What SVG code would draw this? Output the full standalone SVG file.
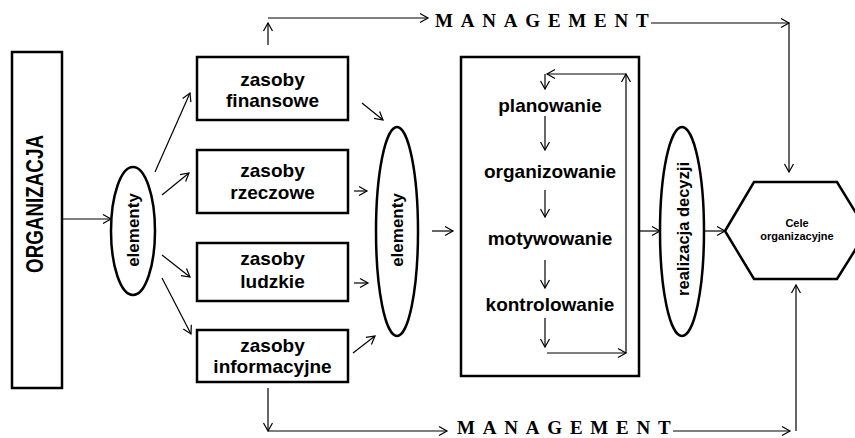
<svg xmlns="http://www.w3.org/2000/svg" width="855" height="438" viewBox="0 0 855 438">
<defs>
<marker id="ah" markerUnits="userSpaceOnUse" markerWidth="12" markerHeight="12" refX="8" refY="4.5" orient="auto" overflow="visible">
<path d="M0,0 L8,4.5 L0,9" fill="none" stroke="#000" stroke-width="1.2"/>
</marker>
</defs>
<style>
.shape{fill:#fff;stroke:#000;stroke-width:2.5}
.c{fill:none;stroke:#000;stroke-width:1.2;marker-end:url(#ah)}
.t{font-family:"Liberation Sans",Arial,sans-serif;font-weight:bold;fill:#000;text-anchor:middle}
.box{font-size:19px}
.proc{font-size:19px}
.mg{font-family:"Liberation Serif","Times New Roman",serif;font-weight:bold;font-size:19px;letter-spacing:7.8px;fill:#000}
</style>
<rect width="855" height="438" fill="#fff"/>

<g id="organizacja">
<rect class="shape" x="12" y="52" width="50" height="336"/>
<text class="t" font-size="23" transform="translate(43,204) rotate(-90)" x="0" y="0" textLength="138" lengthAdjust="spacingAndGlyphs">ORGANIZACJA</text>
</g>

<g id="elementy1">
<ellipse class="shape" cx="133" cy="231" rx="22" ry="64"/>
<text class="t" font-size="17" transform="translate(139,230) rotate(-90)">elementy</text>
</g>

<g id="zasoby-finansowe">
<rect class="shape" x="197" y="57" width="151" height="63"/>
<text class="t box" x="272.5" y="86">zasoby</text>
<text class="t box" x="272.5" y="107">finansowe</text>
</g>
<g id="zasoby-rzeczowe">
<rect class="shape" x="197" y="150" width="151" height="63"/>
<text class="t box" x="272.5" y="177">zasoby</text>
<text class="t box" x="272.5" y="199">rzeczowe</text>
</g>
<g id="zasoby-ludzkie">
<rect class="shape" x="197" y="243" width="151" height="58"/>
<text class="t box" x="272.5" y="265">zasoby</text>
<text class="t box" x="272.5" y="288">ludzkie</text>
</g>
<g id="zasoby-informacyjne">
<rect class="shape" x="197" y="330" width="151" height="52"/>
<text class="t box" x="272.5" y="352">zasoby</text>
<text class="t box" x="272.5" y="373">informacyjne</text>
</g>

<g id="elementy2">
<ellipse class="shape" cx="397" cy="231.5" rx="21" ry="104.5"/>
<text class="t" font-size="17" transform="translate(403,230) rotate(-90)">elementy</text>
</g>

<g id="funkcje">
<rect class="shape" x="461" y="57" width="178" height="319"/>
<text class="t proc" x="550" y="112">planowanie</text>
<text class="t proc" x="550" y="178">organizowanie</text>
<text class="t proc" x="550" y="245">motywowanie</text>
<text class="t proc" x="550" y="311">kontrolowanie</text>
</g>

<g id="realizacja">
<ellipse class="shape" cx="682" cy="231.5" rx="22" ry="104.5"/>
<text class="t" font-size="16.5" transform="translate(689,229) rotate(-90)">realizacja decyzji</text>
</g>

<g id="cele">
<polygon class="shape" points="725,231 754,182 837,182 867,231 837,279 754,279"/>
<text class="t" font-size="11" x="797" y="227">Cele</text>
<text class="t" font-size="11" x="797" y="240">organizacyjne</text>
</g>

<g id="management-top">
<text class="mg" x="435" y="27">MANAGEMENT</text>
</g>
<g id="management-bottom">
<text class="mg" x="457" y="434">MANAGEMENT</text>
</g>

<g id="connectors">
<path class="c" d="M62,219 L111,219"/>
<path class="c" d="M155,172 L190,93"/>
<path class="c" d="M162,195 L189,173"/>
<path class="c" d="M162,255 L190,277"/>
<path class="c" d="M162,278 L191,334"/>
<path class="c" d="M362,103 L383,120"/>
<path class="c" d="M354,191 L367,191"/>
<path class="c" d="M354,283 L368,283"/>
<path class="c" d="M353,353 L375,336"/>
<path class="c" d="M432,231 L453,231"/>
<path class="c" d="M545,74 L545,89"/>
<path class="c" d="M545,116 L545,150"/>
<path class="c" d="M545,190 L545,217"/>
<path class="c" d="M545,260 L545,288"/>
<path class="c" d="M545,318 L545,347"/>
<path class="c" d="M547,353 L626,353"/>
<path class="c" d="M626,353 L626,74"/>
<path class="c" d="M626,74 L547,74"/>
<path class="c" d="M639,231 L660,231"/>
<path class="c" d="M704,231 L725,231"/>
<path class="c" d="M268,45 L268,23"/>
<path class="c" d="M268,18 L428,18"/>
<path class="c" d="M651,23 L789,23"/>
<path class="c" d="M789,23 L789,172"/>
<path class="c" d="M268,388 L268,431"/>
<path class="c" d="M268,431 L447,431"/>
<path class="c" d="M673,431 L790,431"/>
<path class="c" d="M796,431 L796,285"/>
</g>
</svg>
